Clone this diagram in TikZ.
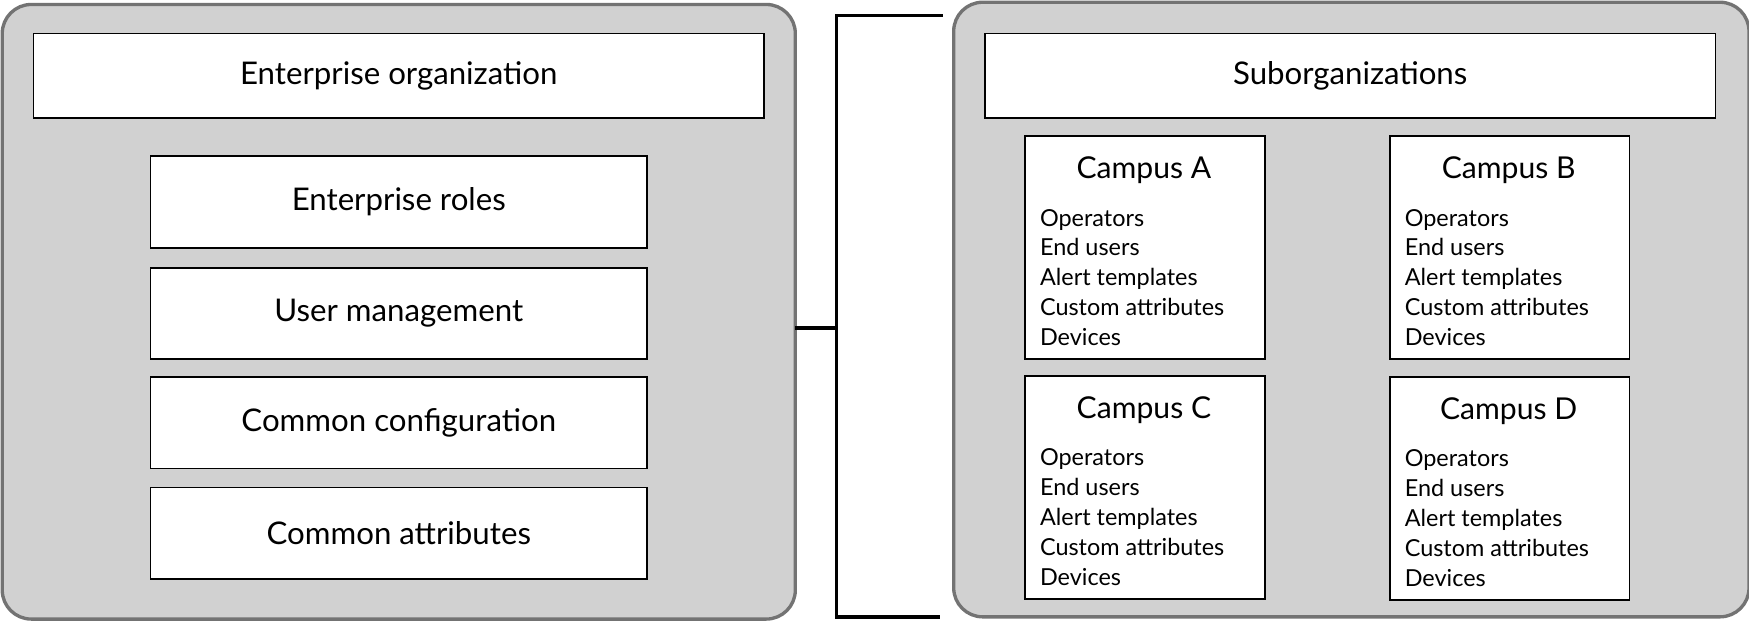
\documentclass[tikz,border=0pt]{standalone}
\usepackage{fontspec}
\setmainfont{Lato}
\begin{document}
\begin{tikzpicture}[x=0.5pt,y=-0.5pt,
  outer/.style={draw=black!55,line width=1.5pt,fill=black!18,rounded corners=13pt},
  box/.style={draw=black,line width=0.8pt,fill=white,font=\fontsize{14}{16}\selectfont},
  camp/.style={draw=black,line width=0.8pt,fill=white},
  ctitle/.style={font=\fontsize{13.5}{16}\selectfont},
  clist/.style={font=\fontsize{10.5}{13.4}\selectfont,align=left,anchor=north west,inner sep=0pt},
  link/.style={line width=1.5pt}]
\useasboundingbox (0,0) rectangle (1568,558);
\draw[outer] (2,4) rectangle (713,555);
\coordinate (lft) at (713,294);
\node[box,minimum width=327.5pt,minimum height=38pt] (eo) at (357.5,68) {Enterprise organization};
\foreach \n/\y/\t in {er/181/Enterprise roles,um/281/User management,cc/379/Common configuration,ca/478/Common attributes}
  \node[box,minimum width=222.5pt,minimum height=41pt] (\n) at (357.5,\y) {\t};
\draw[outer] (855,2) rectangle (1568,553);
\node[box,minimum width=327.5pt,minimum height=38pt] (so) at (1210.5,68) {Suborganizations};
\coordinate (bm) at (750,294);
\coordinate (bt) at (750,14);
\coordinate (bb) at (750,553);
\coordinate (tt) at (845,14);
\coordinate (tb) at (843,553);
\draw[link] (lft) -- (bm);
\draw[link] (tt) -- (bt) -- (bb) -- (tb);
\foreach \n/\x/\y/\L in {A/918/121/A,B/1245/121/B,C/918/336/C,D/1245/337/D}{
  \node[camp,minimum width=107.5pt,minimum height=100pt,anchor=north west] (c\n) at (\x,\y) {};
  \node[ctitle] (t\n) at (\x+107.5,\y+32) {Campus \L};
  \node[clist] (l\n) at (\x+14,\y+66) {Operators\\End users\\Alert templates\\Custom attributes\\Devices};
}
\end{tikzpicture}
\end{document}
